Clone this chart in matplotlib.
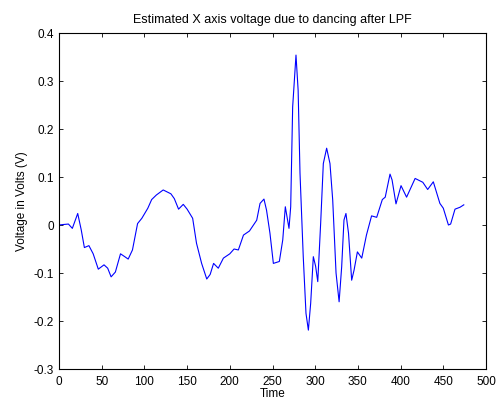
import matplotlib
matplotlib.use("Agg")
import matplotlib.pyplot as plt

# values
time = [0, 5, 11, 15.6, 21.9, 26, 29.7, 35, 40, 46, 52.7, 57, 61, 66, 72, 77, 81, 86,
        92, 97, 104, 108.5, 114, 122, 131, 135, 140, 145.5, 150, 156.5, 161, 167, 173,
        177, 181, 186.5, 192.5, 200, 205, 210, 216, 223, 231.5, 235.4, 240, 243, 247,
        251, 258, 262, 265, 269.3, 271.3, 273.6, 277.5, 280, 282.2, 286, 289.2, 292,
        294.7, 297.8, 300.5, 303, 306.4, 309.5, 313.4, 317.3, 320.5, 324.4, 328, 331,
        333.7, 336, 339, 342.7, 345.5, 349.4, 354.5, 360, 366, 372,
        378.6, 382, 387.6, 390, 394.6, 400.5, 407, 417, 426, 431.7, 438.3, 446, 450,
        456, 458.6, 463.7, 469.6, 474]
volt = [0.0, 0.001, 0.002, -0.007, 0.024, -0.01, -0.047, -0.043, -0.06, -0.092, -0.083,
        -0.09, -0.108, -0.098, -0.06, -0.066, -0.071, -0.052, 0.003, 0.014, 0.035, 0.053,
        0.0625, 0.073, 0.065, 0.055, 0.033, 0.043, 0.033, 0.014, -0.038, -0.08, -0.1125,
        -0.103, -0.08, -0.09, -0.069, -0.06, -0.05, -0.052, -0.021, -0.0125, 0.010,
        0.045, 0.054, 0.031, -0.017, -0.08, -0.076, -0.031, 0.038, -0.007, 0.038,
        0.246, 0.354, 0.281, 0.108, -0.066, -0.184, -0.219, -0.163, -0.066, -0.086,
        -0.118, 0.004, 0.128, 0.16, 0.128, 0.052, -0.1, -0.16, -0.087, 0.0104, 0.024,
        -0.017, -0.115, -0.094, -0.056, -0.069, -0.021, 0.019, 0.016, 0.053, 0.058,
        0.106, 0.094, 0.044, 0.082, 0.058, 0.097, 0.089, 0.074, 0.090, 0.045, 0.035,
        0.0, 0.002, 0.033, 0.037, 0.042]

plt.rcParams['font.family'] = ['Liberation Sans', 'DejaVu Sans']
plt.rcParams['font.size'] = 8.5

fig = plt.figure(figsize=(4.98, 4.0), dpi=100)
ax = fig.add_axes([0.1185, 0.0775, 0.8574, 0.84])
ax.plot(time, volt, color='#0000ff', linewidth=0.8)

ax.set_xlim(0, 500)
ax.set_ylim(-0.3, 0.4)
ax.set_xticks(range(0, 501, 50))
ax.set_yticks([-0.3, -0.2, -0.1, 0, 0.1, 0.2, 0.3, 0.4])
ax.set_yticklabels(['-0.3', '-0.2', '-0.1', '0', '0.1', '0.2', '0.3', '0.4'])
ax.tick_params(direction='in', length=3, width=0.6, top=True, right=True)
ax.tick_params(axis='x', pad=5)
ax.tick_params(axis='y', pad=3.5)
for s in ax.spines.values():
    s.set_linewidth(0.8)

ax.set_title('Estimated X axis voltage due to dancing after LPF', fontsize=9, pad=7)
ax.set_xlabel('Time', labelpad=0)
ax.set_ylabel('Voltage in Volts (V)', labelpad=4)

fig.savefig('out.png', dpi=100)
